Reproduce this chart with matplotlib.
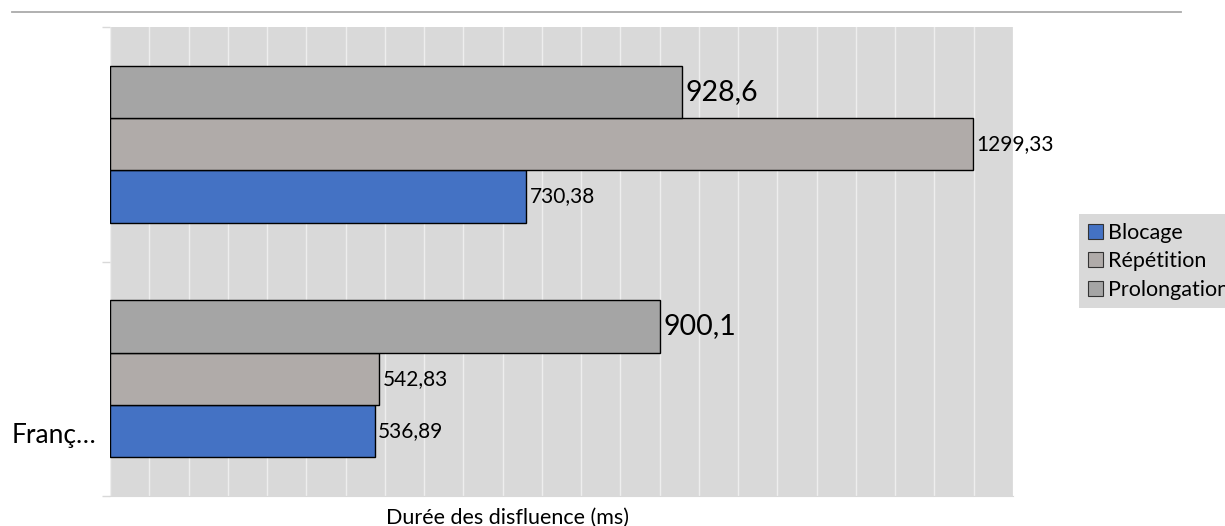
import matplotlib
matplotlib.use('Agg')
import matplotlib.pyplot as plt
import matplotlib.transforms as mtransforms
from matplotlib.lines import Line2D
from matplotlib.patches import Patch

plt.rcParams['font.family'] = ['Lato', 'DejaVu Sans']

categories = ['Franç…', '']
series_names = ['Blocage', 'Répétition', 'Prolongation']
blocage = [536.89, 730.38]
repetition = [542.83, 1299.33]
prolongation = [900.1, 928.6]
x_label = 'Durée des disfluence (ms)'

colors = ['#4472C4', '#B0ABA9', '#A5A5A5']
label_sizes = [15, 15, 20.5]

fig = plt.figure(figsize=(12.25, 5.26), dpi=100)
ax = fig.add_axes([110 / 1225, 30 / 526, 903 / 1225, 469 / 526])
ax.set_facecolor('#D9D9D9')

bar_h = 0.223
offsets = [-bar_h, 0, bar_h]
all_series = [blocage, repetition, prolongation]
for vals, name, col, off, fs in zip(all_series, series_names, colors, offsets, label_sizes):
    ys = [i + off for i in range(len(categories))]
    ax.barh(ys, [v - 200 for v in vals], left=200, height=bar_h, color=col,
            edgecolor='black', linewidth=1, label=name, zorder=3)
    for y, v in zip(ys, vals):
        txt = f'{v:g}'.replace('.', ',')
        ax.annotate(txt, (v, y), xytext=(2.5, 0), textcoords='offset points',
                    va='center', ha='left', fontsize=fs, color='black', zorder=4)

ax.set_xlim(200, 1350)
ax.set_ylim(-0.5, len(categories) - 0.5)
ax.set_xticks(range(200, 1351, 50))
ax.tick_params(axis='x', length=0, labelbottom=False)
ax.grid(axis='x', color='#EEEEEE', linewidth=1, zorder=0)
ax.set_axisbelow(True)

ax.set_yticks([-0.5, 0.5, 1.5])
ax.tick_params(axis='y', length=6, color='#D9D9D9', width=1, labelleft=False)
for s in ['top', 'right', 'left']:
    ax.spines[s].set_visible(False)
ax.spines['bottom'].set_color('#D9D9D9')

# category label (only the first one is shown in the original)
trans = mtransforms.blended_transform_factory(ax.transAxes, ax.transData)
ax.text(-0.015, 0 - bar_h - 0.02, categories[0], transform=trans, ha='right',
        va='center', fontsize=19)

fig.text(508 / 1225, 1 - 518 / 526, x_label, ha='center', va='center', fontsize=15.5)

# top rule
fig.add_artist(Line2D([12 / 1225, 1181 / 1225], [1 - 11.5 / 526, 1 - 11.5 / 526],
                      color='#AAAAAA', linewidth=1.3, transform=fig.transFigure))

handles = [Patch(facecolor=c, edgecolor='#333333', linewidth=0.8) for c in colors]
leg = fig.legend(handles, series_names, loc='upper left',
                 bbox_to_anchor=(1079 / 1225, 1 - 214 / 526), fontsize=15.5,
                 frameon=True, fancybox=False, framealpha=1,
                 handlelength=0.7, handleheight=0.7, handletextpad=0.25,
                 borderpad=0.4, labelspacing=0.4, borderaxespad=0)
leg.get_frame().set_facecolor('#D9D9D9')
leg.get_frame().set_edgecolor('none')

fig.savefig('out.png', dpi=100)
